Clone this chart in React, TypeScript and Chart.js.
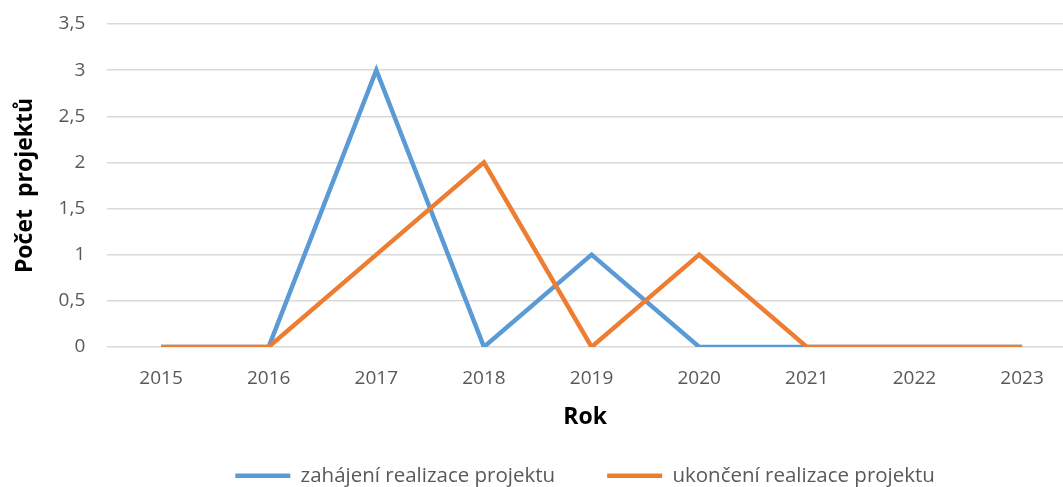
import React, { useEffect, useRef } from "react";
import { Chart, registerables } from "chart.js";

Chart.register(...registerables);

const years = [2015, 2016, 2017, 2018, 2019, 2020, 2021, 2022, 2023];
const zahajeni = [0, 0, 3, 0, 1, 0, 0, 0, 0];
const ukonceni = [0, 0, 1, 2, 0, 1, 0, 0, 0];
const seriesNames = ["zahájení realizace projektu", "ukončení realizace projektu"];
const yTicks = [0, 0.5, 1, 1.5, 2, 2.5, 3, 3.5];

const FONT = "'Open Sans', 'Noto Sans', sans-serif";

export default function App() {
  const ref = useRef<HTMLCanvasElement | null>(null);

  useEffect(() => {
    if (!ref.current) return;
    const chart = new Chart(ref.current, {
      type: "line",
      data: {
        datasets: [
          {
            label: seriesNames[0],
            data: years.map((y, i) => ({ x: y, y: zahajeni[i] })),
            borderColor: "#5B9BD5",
            backgroundColor: "#5B9BD5",
            borderWidth: 4.5,
            pointRadius: 0,
            pointStyle: "line",
            order: 1,
          },
          {
            label: seriesNames[1],
            data: years.map((y, i) => ({ x: y, y: ukonceni[i] })),
            borderColor: "#ED7D31",
            backgroundColor: "#ED7D31",
            borderWidth: 4.5,
            pointRadius: 0,
            pointStyle: "line",
            order: 0,
          },
        ],
      },
      options: {
        animation: false,
        responsive: true,
        maintainAspectRatio: false,
        layout: { padding: { top: 24, right: 0, left: 12, bottom: -9 } },
        plugins: {
          tooltip: { enabled: false },
          legend: {
            position: "bottom",
            fullSize: false,
            title: {
              display: true,
              text: "",
              font: { size: 1 },
              padding: { top: -11, bottom: -11 },
            },
            labels: {
              usePointStyle: true,
              pointStyleWidth: 55,
              padding: 52,
              color: "#595959",
              font: { family: FONT, size: 20.5 },
              sort: (a: any, b: any) => a.datasetIndex - b.datasetIndex,
            },
          },
        },
        scales: {
          x: {
            type: "linear",
            min: 2014.5,
            max: 2023.38,
            afterBuildTicks: (axis: any) => {
              axis.ticks = years.map((v) => ({ value: v }));
            },
            grid: { display: false },
            border: { display: false },
            ticks: {
              color: "#595959",
              font: { family: FONT, size: 19 },
              padding: 12,
              maxRotation: 0,
              autoSkip: false,
              callback: (v: any) => String(v),
            },
            title: {
              display: true,
              text: "Rok",
              color: "#000",
              font: { family: FONT, size: 23, weight: "bold" },
              padding: { top: 2, bottom: 3 },
            },
          },
          y: {
            min: 0,
            max: 3.5,
            afterBuildTicks: (axis: any) => {
              axis.ticks = yTicks.map((v) => ({ value: v }));
            },
            grid: {
              color: "#D9D9D9",
              lineWidth: 1.5,
              drawTicks: true,
              tickLength: 14,
              tickColor: "rgba(0,0,0,0)",
            },
            border: { display: false },
            ticks: {
              color: "#595959",
              font: { family: FONT, size: 19 },
              padding: 8,
              callback: (v: any) => String(v).replace(".", ","),
            },
            title: {
              display: true,
              text: "Počet  projektů",
              color: "#000",
              font: { family: FONT, size: 23, weight: "bold" },
              padding: { top: 0, bottom: 11 },
            },
          },
        },
      },
    });
    return () => chart.destroy();
  }, []);

  return (
    <div style={{ position: "absolute", left: 0, top: 0, width: 1063, height: 487, background: "#fff" }}>
      <canvas ref={ref} />
    </div>
  );
}
